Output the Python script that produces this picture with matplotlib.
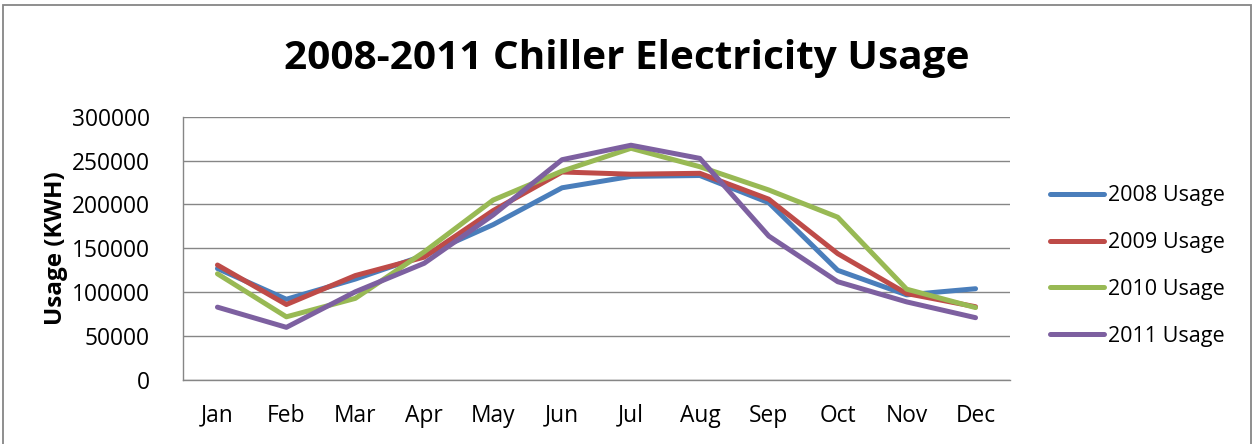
import matplotlib
matplotlib.use("Agg")
import matplotlib.pyplot as plt
from matplotlib import font_manager
from matplotlib.patches import Rectangle

months = ["Jan", "Feb", "Mar", "Apr", "May", "Jun",
          "Jul", "Aug", "Sep", "Oct", "Nov", "Dec"]
usage_2008 = [127000, 92000, 115000, 142000, 177000, 219000,
              232000, 233000, 202000, 125000, 97000, 104000]
usage_2009 = [131000, 86000, 119000, 140000, 193000, 237000,
              234500, 235500, 206000, 144000, 98500, 83500]
usage_2010 = [121000, 72000, 93000, 146000, 205000, 238000,
              264000, 243000, 216500, 185500, 103500, 82500]
usage_2011 = [83000, 60000, 100500, 133000, 188000, 251000,
              267500, 252500, 164000, 112000, 89000, 71000]
series_labels = ["2008 Usage", "2009 Usage", "2010 Usage", "2011 Usage"]
series_colors = ["#4A7EBB", "#BE4B48", "#98B954", "#7D60A0"]
y_ticks = [0, 50000, 100000, 150000, 200000, 250000, 300000]

installed = {f.name for f in font_manager.fontManager.ttflist}
def pick(*names):
    for n in names:
        if n in installed:
            return n
    return "DejaVu Sans"

body_font = pick("Open Sans", "Noto Sans", "Lato")
title_font = pick("Liberation Sans Narrow", "Open Sans", "Noto Sans")

W, H = 1253, 444
fig = plt.figure(figsize=(W / 100, H / 100), dpi=100)
fig.patch.set_facecolor("white")

# outer chart border
fig.add_artist(Rectangle((3 / W, -0.02), 1248 / W, (H - 5) / H + 0.02,
                         transform=fig.transFigure, fill=False,
                         edgecolor="#868686", lw=1.3, clip_on=False))

left, right, top, bottom = 183, 1010, 116.7, 380
ax = fig.add_axes([left / W, (H - bottom) / H, (right - left) / W, (bottom - top) / H])

x = list(range(len(months)))
for vals, lab, col in zip([usage_2008, usage_2009, usage_2010, usage_2011],
                          series_labels, series_colors):
    ax.plot(x, vals, color=col, lw=3.6, label=lab,
            solid_joinstyle="round", solid_capstyle="round")

ax.set_xlim(-0.5, 11.5)
ax.set_ylim(0, 300000)
ax.set_yticks(y_ticks)
ax.set_yticklabels([str(v) for v in y_ticks], fontfamily=body_font, fontsize=16.4)
ax.set_xticks(x)
ax.set_xticklabels(months, fontfamily=body_font, fontsize=16.4)
ax.tick_params(axis="y", length=0, pad=24)
ax.tick_params(axis="x", length=0, pad=17)
ax.grid(axis="y", color="#868686", lw=1.0)
ax.set_axisbelow(True)
for s in ("top", "right"):
    ax.spines[s].set_visible(False)
for s in ("left", "bottom"):
    ax.spines[s].set_color("#868686")
    ax.spines[s].set_linewidth(1.0)

fig.text(56 / W, 1 - 248 / H, "Usage (KWH)", rotation=90, ha="center", va="center",
         fontfamily=body_font, fontweight="bold", fontsize=17.5)

title = fig.text(0.5, 1 - 69 / H, "2008-2011 Chiller Electricity Usage",
                 ha="center", va="baseline", fontfamily=title_font,
                 fontweight="bold", fontsize=30)
fig.canvas.draw()
tw = title.get_window_extent().width
title.set_fontsize(30 * 685 / tw)

leg = ax.legend(loc="center left", bbox_to_anchor=(1050 / W, 1 - 266 / H),
                bbox_transform=fig.transFigure, frameon=False, borderpad=0,
                borderaxespad=0, handlelength=2.5, handletextpad=0.2,
                labelspacing=1.2, prop={"family": body_font, "size": 15.5})
for line in leg.get_lines():
    line.set_linewidth(3.6)

fig.savefig("out.png", dpi=100, facecolor="white")
